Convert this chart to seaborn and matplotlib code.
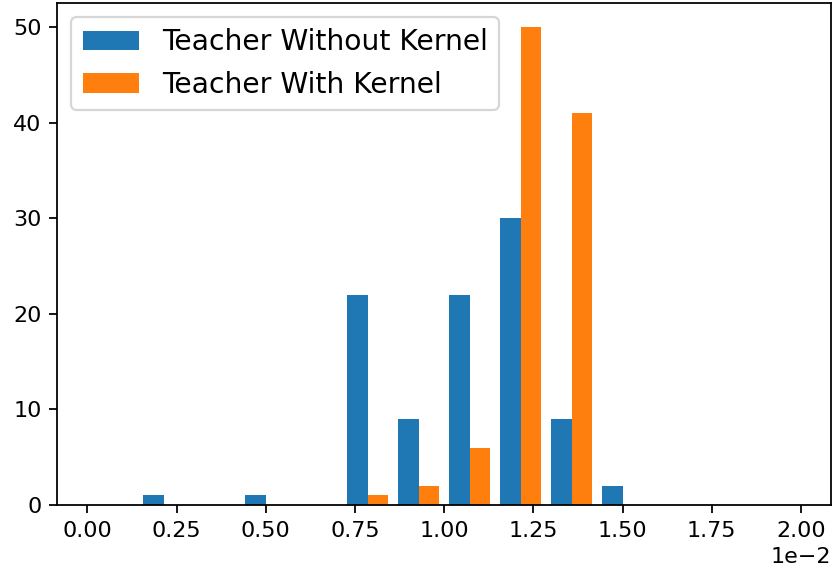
import numpy as np
import pandas as pd
import matplotlib
matplotlib.use("Agg")
import matplotlib.pyplot as plt
from matplotlib.patches import Patch
import seaborn as sns

# Histogram bins: 14 equal bins over [0, 0.02]
n_bins = 14
bin_range = (0.0, 0.02)
bin_edges = np.linspace(bin_range[0], bin_range[1], n_bins + 1)
bin_centers = (bin_edges[:-1] + bin_edges[1:]) / 2

series_names = ["Teacher Without Kernel", "Teacher With Kernel"]
counts_without = [0, 1, 0, 1, 0, 22, 9, 22, 30, 9, 2, 0, 0, 0]
counts_with = [0, 0, 0, 0, 0, 1, 2, 6, 50, 41, 0, 0, 0, 0]
colors = ["#1f77b4", "#ff7f0e"]

df = pd.DataFrame({
    "value": np.concatenate([bin_centers, bin_centers]),
    "count": counts_without + counts_with,
    "teacher": [series_names[0]] * len(bin_centers) + [series_names[1]] * len(bin_centers),
})

dpi = 160
fig = plt.figure(figsize=(833 / dpi, 576 / dpi), dpi=dpi)
ax = fig.add_axes([57.3 / 833, 1 - 505 / 576, (831 - 57.3) / 833, (505 - 3) / 576])

sns.histplot(
    data=df, x="value", weights="count", hue="teacher",
    hue_order=series_names, palette=colors,
    bins=n_bins, binrange=bin_range, multiple="dodge", shrink=0.8,
    alpha=1.0, linewidth=0, legend=False, ax=ax,
)

ax.set_xlabel("")
ax.set_ylabel("")
ax.set_xticks(np.arange(0, 0.0201, 0.0025))
ax.set_yticks([0, 10, 20, 30, 40, 50])
ax.ticklabel_format(axis="x", style="sci", scilimits=(0, 0))
ax.tick_params(labelsize=10)
ax.xaxis.get_offset_text().set_fontsize(10)

handles = [Patch(facecolor=c, edgecolor="none") for c in colors]
ax.legend(handles, series_names, loc="upper left", fontsize=12.7)

fig.savefig("out.png", dpi=dpi)
